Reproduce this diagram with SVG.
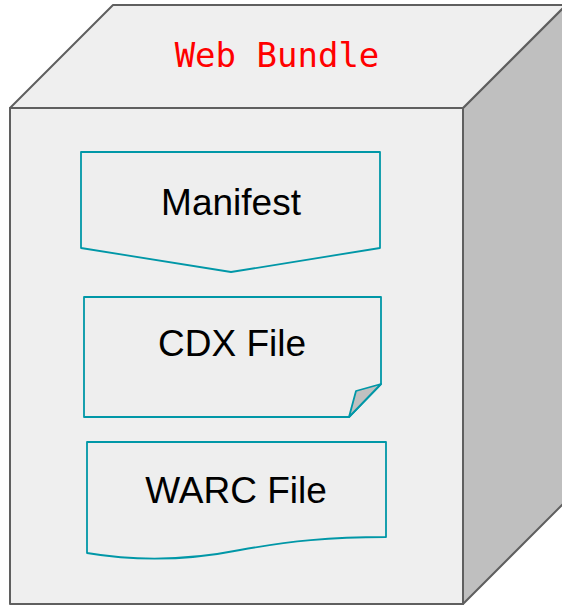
<svg xmlns="http://www.w3.org/2000/svg" width="562" height="606" viewBox="0 0 562 606">
  <style>
    .face { stroke: #5f5f5f; stroke-width: 2; stroke-linejoin: round; }
    .light { fill: #efefef; }
    .dark { fill: #bfbfbf; }
    .doc { fill: #eeeeee; stroke: #0097a7; stroke-width: 1.8; stroke-linejoin: round; }
    .fold { fill: #c0c0c0; stroke: #0097a7; stroke-width: 1.8; stroke-linejoin: round; }
    .label { font-family: "Liberation Sans", Arial, sans-serif; font-size: 37px; fill: #000000; text-anchor: middle; }
    .title { font-family: "DejaVu Sans Mono", monospace; font-size: 34px; fill: #ff0000; text-anchor: middle; }
  </style>

  <!-- cube container -->
  <g id="bundle">
    <polygon class="face dark" points="463,108 566,5 566,501 463,604"/>
    <polygon class="face light" points="10,108 113,5 566,5 463,108"/>
    <rect class="face light" x="10" y="108" width="453" height="496"/>
    <text class="title" x="277" y="67">Web Bundle</text>
  </g>

  <!-- manifest: pentagon pointing down -->
  <g id="manifest">
    <polygon class="doc" points="81,152 380,152 380,248 231,272 81,248"/>
    <text class="label" x="231" y="215">Manifest</text>
  </g>

  <!-- CDX file: sheet with folded corner -->
  <g id="cdx">
    <path class="doc" d="M84,297 H381 V384 L349,417 H84 Z"/>
    <polygon class="fold" points="349,417 356,391 381,384"/>
    <text class="label" x="232" y="356">CDX File</text>
  </g>

  <!-- WARC file: document with wavy bottom -->
  <g id="warc">
    <path class="doc" d="M87,442 H386 V537 C330,537 290,541 240,550 C190,560 140,562 87,553 Z"/>
    <text class="label" x="236" y="503">WARC File</text>
  </g>
</svg>
